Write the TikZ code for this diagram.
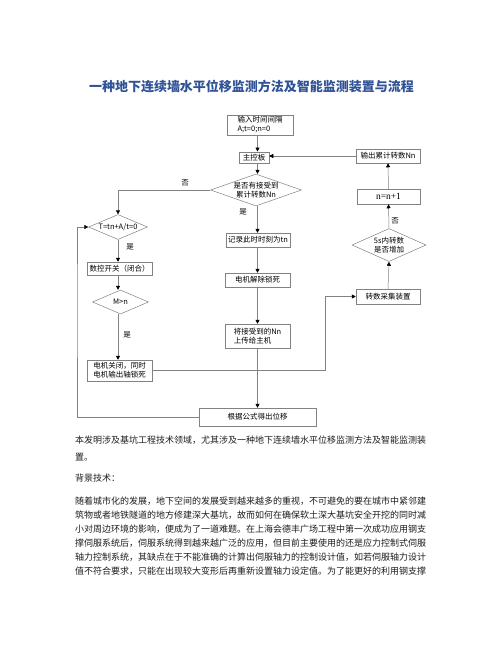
\documentclass[tikz,border=0pt]{standalone}
\usepackage{fontspec}
\newfontfamily\cjk{Noto Sans CJK SC}
\usetikzlibrary{shapes.geometric,arrows.meta}
\definecolor{titleblue}{RGB}{48,82,150}
\definecolor{lineg}{RGB}{130,130,130}
\definecolor{bodyc}{RGB}{30,30,30}
\tikzset{
  box/.style={draw=lineg, line width=0.5pt, rectangle, inner sep=1pt, align=center,
    font=\cjk\fontsize{7.5}{9}\selectfont},
  dia/.style={draw=lineg, line width=0.5pt, diamond, inner sep=0pt},
  lbl/.style={font=\cjk\fontsize{7.5}{9}\selectfont, align=center, inner sep=0pt},
  arr/.style={draw=lineg, line width=0.5pt, -{Triangle[length=4pt,width=4pt,fill=black,color=black]}},
  ln/.style={draw=lineg, line width=0.5pt},
  yn/.style={font=\cjk\fontsize{7.5}{9}\selectfont, inner sep=0pt},
  body/.style={font=\cjk\fontsize{9}{11}\selectfont, text=bodyc, anchor=west, inner sep=0pt}
}
\begin{document}
\begin{tikzpicture}[x=1pt,y=-1pt]
\useasboundingbox (0,0) rectangle (502,649);
\fill[white] (0,0) rectangle (502,649);

\node[font=\cjk\bfseries\fontsize{13}{15}\selectfont, text=titleblue] (title) at (251.5,87)
  {一种地下连续墙水平位移监测方法及智能监测装置与流程};

% column coordinates
\coordinate (cx) at (257.5,0);
\coordinate (lx) at (77,300);
\coordinate (mx) at (325.7,330);

% main column
\node[box, minimum width=66pt, minimum height=20pt, align=left] (in) at (260,125) {输入时间间隔\\A;t=0;n=0};
\node[box, minimum width=30pt, minimum height=11.5pt] (zk) at (254,157.5) {主控板};
\node[dia, minimum width=91pt, minimum height=32pt,
  label={[lbl]center:{是否有接受到\\累计转数Nn}}] (d1) at (256,190) {};
\node[box, minimum width=64pt, minimum height=14pt] (rec) at (258,240) {记录此时时刻为tn};
\node[box, minimum width=65pt, minimum height=14pt] (jc) at (257.5,280) {电机解除锁死};
\node[box, minimum width=65pt, minimum height=24pt, align=left] (up) at (257.5,336) {将接受到的Nn\\上传给主机};
\node[box, minimum width=117pt, minimum height=18pt] (gs) at (257.5,417) {根据公式得出位移};

% left column
\node[dia, minimum width=59pt, minimum height=25pt,
  label={[lbl]center:{T=tn+A/t=0}}] (T) at (118,227) {};
\node[box, minimum width=65pt, minimum height=13pt] (sk) at (119.5,268.5) {数控开关（闭合）};
\node[dia, minimum width=56pt, minimum height=24pt,
  label={[lbl]center:{M>n}}] (M) at (120.5,302) {};
\node[box, minimum width=65pt, minimum height=21pt, align=left] (gb) at (119.5,370.5) {电机关闭，同时\\电机输出轴锁死};

% right column
\node[box, minimum width=64pt, minimum height=14pt] (out) at (388,156) {输出累计转数Nn};
\node[box, minimum width=63pt, minimum height=15pt, font=\fontspec{Liberation Serif}\fontsize{9.5}{11}\selectfont] (nn) at (388.5,196.5) {n=n+1};
\node[dia, minimum width=74pt, minimum height=33pt,
  label={[lbl]center:{5s内转数\\是否增加}}] (d5) at (389,245) {};
\node[box, minimum width=64pt, minimum height=15pt] (zs) at (388,296.5) {转数采集装置};

% main column arrows
\draw[arr] (in.south -| cx) -- (zk.north -| cx);
\draw[arr] (zk.south -| cx) -- (d1.north -| cx);
\draw[arr] (d1.south -| cx) -- (rec.north -| cx);
\draw[arr] (rec.south -| cx) -- (jc.north -| cx);
\draw[arr] (jc.south -| cx) -- (up.north -| cx);
\draw[arr] (up.south -| cx) -- (gs.north -| cx);

% left branch
\draw[arr] (d1.west) -| (T.north);
\draw[arr] (T.south) -- (T.south |- sk.north);
\draw[arr] (sk.south -| T.south) -- (M.north -| T.south);
\draw[arr] (M.south -| T.south) -- (gb.north -| T.south);
\draw[arr] (gs.west) -| (lx) |- (T.west);
\draw[arr] (gb.east) -| (mx) |- (zs.west);

% right column arrows
\draw[arr] (zs.north) -- (d5.south);
\draw[arr] (d5.north) -- (nn.south);
\draw[arr] (nn.north) -- (out.south);
\draw[arr] (out.west) -- (out.west -| zk.east);

% yes/no labels
\node[yn] (n1) at (185,183) {否};
\node[yn] (y1) at (243,212) {是};
\node[yn] (y2) at (130,247) {是};
\node[yn] (y3) at (127,335) {是};
\node[yn] (n2) at (395,221) {否};

% body text
\node[body] (t1) at (75,440) {本发明涉及基坑工程技术领域，尤其涉及一种地下连续墙水平位移监测方法及智能监测装};
\node[body] (t2) at (75,457) {置。};
\node[body] (t3) at (75,478) {背景技术：};
\node[body] (p1) at (75,501.5) {随着城市化的发展，地下空间的发展受到越来越多的重视，不可避免的要在城市中紧邻建};
\node[body] (p2) at (75,515.4) {筑物或者地铁隧道的地方修建深大基坑，故而如何在确保软土深大基坑安全开挖的同时减};
\node[body] (p3) at (75,529.3) {小对周边环境的影响，便成为了一道难题。在上海会德丰广场工程中第一次成功应用钢支};
\node[body] (p4) at (75,543.2) {撑伺服系统后，伺服系统得到越来越广泛的应用，但目前主要使用的还是应力控制式伺服};
\node[body] (p5) at (75,557.1) {轴力控制系统，其缺点在于不能准确的计算出伺服轴力的控制设计值，如若伺服轴力设计};
\node[body] (p6) at (75,571) {值不符合要求，只能在出现较大变形后再重新设置轴力设定值。为了能更好的利用钢支撑};
\end{tikzpicture}
\end{document}
